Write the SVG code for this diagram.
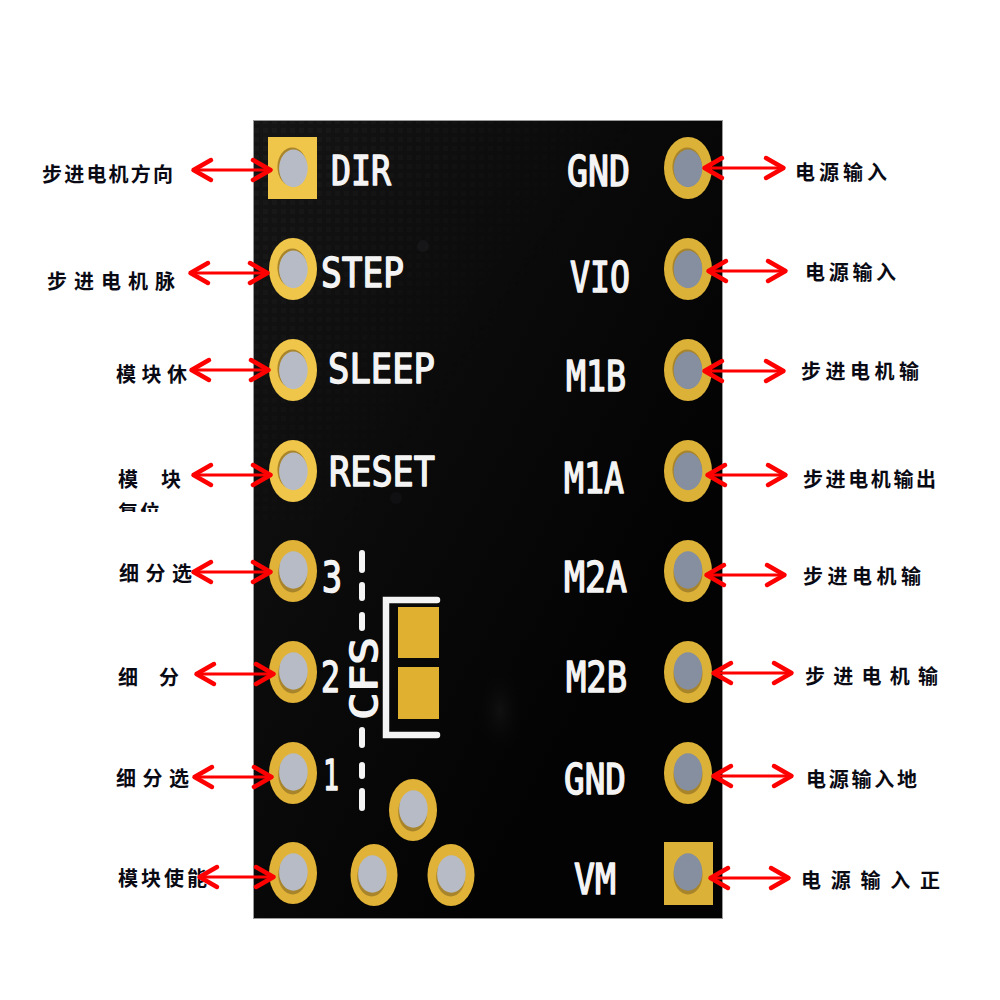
<svg xmlns="http://www.w3.org/2000/svg" width="1000" height="1000" viewBox="0 0 1000 1000">
<style>
.silk{font-family:"DejaVu Sans Mono","Liberation Mono",monospace;font-weight:normal;fill:#f4f4f4;stroke:#f4f4f4;stroke-width:1.5;stroke-linejoin:round}
.lab{font-family:"Noto Sans CJK SC",sans-serif;font-weight:bold;font-size:20px;fill:#0a0a14}
.arrow{fill:none;stroke:#ff0000;stroke-width:3.2;marker-start:url(#head);marker-end:url(#head)}
.dash{fill:none;stroke:#f4f4f4;stroke-width:6;stroke-linecap:round}
.glA{fill:#f0c64a}.glB{fill:#e0b238}.glC{fill:#dcb138}
.hlA{fill:#b7bbc5}.hlC{fill:#858fa0}
.sd{fill:#a8842a}
</style>
<defs>
<marker id="head" markerUnits="userSpaceOnUse" viewBox="-24 -15 27 30" refX="0" refY="0" markerWidth="27" markerHeight="30" orient="auto-start-reverse">
<path d="M-19,-10 L-1.5,0 L-19,10" fill="none" stroke="#ff0000" stroke-width="4.5" stroke-linejoin="round" stroke-linecap="round"/>
</marker>
<linearGradient id="pcb" x1="0" y1="0" x2="0.75" y2="0.7">
<stop offset="0" stop-color="#151515"/><stop offset="0.55" stop-color="#0a0a0a"/><stop offset="1" stop-color="#030303"/>
</linearGradient>
<pattern id="grid" width="9" height="9" patternUnits="userSpaceOnUse">
<rect width="9" height="9" fill="none"/><rect x="2" y="2" width="5" height="5" fill="#222" opacity="0.45"/>
</pattern>
<linearGradient id="fade" x1="0" y1="0" x2="1" y2="0.6">
<stop offset="0" stop-color="#fff"/><stop offset="0.6" stop-color="#000"/>
</linearGradient>
<mask id="gridMask"><rect x="254" y="121" width="468" height="400" fill="url(#fade)"/></mask>
<clipPath id="cut"><rect x="100" y="495" width="80" height="17"/></clipPath>
<radialGradient id="glow"><stop offset="0" stop-color="#1c1c1c"/><stop offset="1" stop-color="#030303" stop-opacity="0"/></radialGradient>
<g id="holeTopA"><ellipse cx="-0.8" cy="-1.2" rx="14.8" ry="19.2" class="sd"/><ellipse cx="0.4" cy="0.4" rx="14.3" ry="18.8" class="hlA"/></g>
<g id="holeLowA"><ellipse cx="-0.3" cy="2" rx="14.5" ry="19.5" class="sd"/><ellipse cx="0.4" cy="-1" rx="14.3" ry="18.8" class="hlA"/></g>
<g id="holeTopC"><ellipse cx="-0.8" cy="-1.2" rx="14.8" ry="19.2" class="sd"/><ellipse cx="0" cy="0.4" rx="14.3" ry="18.8" class="hlC"/></g>
<g id="holeLowC"><ellipse cx="0" cy="2" rx="14.5" ry="19.5" class="sd"/><ellipse cx="0" cy="-1" rx="14.3" ry="18.8" class="hlC"/></g>
</defs>
<rect width="1000" height="1000" fill="#fff"/>
<g id="board">
<rect x="253" y="120" width="470" height="799" fill="#9a9a9a"/>
<rect x="254" y="121" width="468" height="797" fill="url(#pcb)"/>
<rect x="254" y="121" width="468" height="400" fill="url(#grid)" mask="url(#gridMask)"/>
<ellipse cx="500" cy="710" rx="26" ry="48" fill="url(#glow)" opacity="0.5"/>
<circle cx="423" cy="246" r="6" fill="#1d1d22" opacity="0.5"/>
<circle cx="396" cy="498" r="6" fill="#15151a" opacity="0.5"/>
</g>
<g id="silkscreen-cfs">
<path class="dash" d="M362,553V570M362,585V598M362,615V628M362,730V745M362,765V776M362,791V808"/>
<text class="silk" transform="translate(377,720) rotate(-90)" font-size="38" textLength="83" lengthAdjust="spacingAndGlyphs">CFS</text>
<path d="M437,600H386V735H437" fill="none" stroke="#f4f4f4" stroke-width="6.5" stroke-linecap="round"/>
<rect x="398" y="607" width="41" height="51" fill="#e0b030"/>
<rect x="398" y="667" width="41" height="52" fill="#e0b030"/>
</g>

<g id="pin-dir"><rect x="268" y="137" width="49" height="62" class="glA"/><use href="#holeTopA" x="293" y="168"/>
<text class="silk" x="331" y="185" font-size="41" textLength="60" lengthAdjust="spacingAndGlyphs">DIR</text>
<text class="lab" x="42" y="182" style="letter-spacing:2.2px">步进电机方向</text></g>
<g id="pin-step"><ellipse cx="293" cy="269" rx="24" ry="31" class="glA"/><use href="#holeTopA" x="293" y="269"/>
<text class="silk" x="321" y="287" font-size="41" textLength="83" lengthAdjust="spacingAndGlyphs">STEP</text>
<text class="lab" x="47" y="289" style="letter-spacing:7px">步进电机脉</text></g>
<g id="pin-sleep"><ellipse cx="293" cy="370" rx="24" ry="31" class="glA"/><use href="#holeTopA" x="293" y="370"/>
<text class="silk" x="328" y="383" font-size="41" textLength="107" lengthAdjust="spacingAndGlyphs">SLEEP</text>
<text class="lab" x="116" y="382" style="letter-spacing:5.5px">模块休</text></g>
<g id="pin-reset"><ellipse cx="293" cy="471" rx="24" ry="31" class="glA"/><use href="#holeTopA" x="293" y="471"/>
<text class="silk" x="329" y="486" font-size="41" textLength="106" lengthAdjust="spacingAndGlyphs">RESET</text>
<text class="lab" x="118" y="487" style="letter-spacing:23px">模块</text>
<g clip-path="url(#cut)"><text class="lab" x="118" y="520" style="letter-spacing:2px">复位</text></g></g>
<g id="pin-3"><ellipse cx="293" cy="571" rx="24" ry="31" class="glB"/><use href="#holeLowA" x="293" y="571"/>
<text class="silk" x="322" y="592" font-size="42" textLength="20" lengthAdjust="spacingAndGlyphs">3</text>
<text class="lab" x="119" y="581" style="letter-spacing:6.5px">细分选</text></g>
<g id="pin-2"><ellipse cx="293" cy="672" rx="24" ry="31" class="glB"/><use href="#holeLowA" x="293" y="672"/>
<text class="silk" x="321" y="692" font-size="42" textLength="19" lengthAdjust="spacingAndGlyphs">2</text>
<text class="lab" x="118" y="685" style="letter-spacing:21px">细分</text></g>
<g id="pin-1"><ellipse cx="293" cy="773" rx="24" ry="31" class="glB"/><use href="#holeLowA" x="293" y="773"/>
<text class="silk" x="323" y="790" font-size="42" textLength="16" lengthAdjust="spacingAndGlyphs">1</text>
<text class="lab" x="116" y="786" style="letter-spacing:6.5px">细分选</text></g>
<g id="pin-en"><ellipse cx="293" cy="873" rx="24" ry="31" class="glB"/><use href="#holeLowA" x="293" y="873"/>
<text class="lab" x="118" y="886" style="letter-spacing:3px">模块使能</text></g>
<g id="pad-a"><ellipse cx="413" cy="810" rx="24" ry="31" class="glB"/><use href="#holeLowA" x="413" y="810"/></g>
<g id="pad-b"><ellipse cx="374" cy="875" rx="23.5" ry="31" class="glB"/><use href="#holeLowA" x="372" y="875"/></g>
<g id="pad-c"><ellipse cx="451" cy="875" rx="23.5" ry="31" class="glB"/><use href="#holeLowA" x="451" y="875"/></g>

<g id="pin-gnd1"><ellipse cx="688" cy="168" rx="24" ry="31" class="glC"/><use href="#holeTopC" x="688" y="168"/>
<text class="silk" x="567" y="186" font-size="42" textLength="63" lengthAdjust="spacingAndGlyphs">GND</text>
<text class="lab" x="795" y="180" style="letter-spacing:4px">电源输入</text></g>
<g id="pin-vio"><ellipse cx="688" cy="269" rx="24" ry="31" class="glC"/><use href="#holeTopC" x="688" y="269"/>
<text class="silk" x="570" y="292" font-size="42" textLength="60" lengthAdjust="spacingAndGlyphs">VIO</text>
<text class="lab" x="805" y="280" style="letter-spacing:3.7px">电源输入</text></g>
<g id="pin-m1b"><ellipse cx="688" cy="370" rx="24" ry="31" class="glC"/><use href="#holeTopC" x="688" y="370"/>
<text class="silk" x="566" y="391" font-size="42" textLength="60" lengthAdjust="spacingAndGlyphs">M1B</text>
<text class="lab" x="801" y="379" style="letter-spacing:4.5px">步进电机输</text></g>
<g id="pin-m1a"><ellipse cx="688" cy="471" rx="24" ry="31" class="glC"/><use href="#holeTopC" x="688" y="471"/>
<text class="silk" x="564" y="493" font-size="42" textLength="60" lengthAdjust="spacingAndGlyphs">M1A</text>
<text class="lab" x="803" y="487" style="letter-spacing:2.6px">步进电机输出</text></g>
<g id="pin-m2a"><ellipse cx="688" cy="571" rx="24" ry="31" class="glC"/><use href="#holeLowC" x="688" y="571"/>
<text class="silk" x="564" y="592" font-size="42" textLength="63" lengthAdjust="spacingAndGlyphs">M2A</text>
<text class="lab" x="803" y="584" style="letter-spacing:4.5px">步进电机输</text></g>
<g id="pin-m2b"><ellipse cx="688" cy="672" rx="24" ry="31" class="glC"/><use href="#holeLowC" x="688" y="672"/>
<text class="silk" x="566" y="692" font-size="42" textLength="61" lengthAdjust="spacingAndGlyphs">M2B</text>
<text class="lab" x="805" y="684" style="letter-spacing:8.25px">步进电机输</text></g>
<g id="pin-gnd2"><ellipse cx="688" cy="773" rx="24" ry="31" class="glC"/><use href="#holeLowC" x="688" y="773"/>
<text class="silk" x="564" y="794" font-size="42" textLength="62" lengthAdjust="spacingAndGlyphs">GND</text>
<text class="lab" x="806" y="787" style="letter-spacing:2.75px">电源输入地</text></g>
<g id="pin-vm"><rect x="664" y="842" width="49" height="63" class="glC"/><use href="#holeLowC" x="688" y="873"/>
<text class="silk" x="574" y="894" font-size="42" textLength="42" lengthAdjust="spacingAndGlyphs">VM</text>
<text class="lab" x="801" y="888" style="letter-spacing:9.75px">电源输入正</text></g>

<g id="connectors">
<path class="arrow" d="M192,170H272"/>
<path class="arrow" d="M189,273H269"/>
<path class="arrow" d="M190,370H270"/>
<path class="arrow" d="M192,475H272"/>
<path class="arrow" d="M192,572H272"/>
<path class="arrow" d="M195,674H275"/>
<path class="arrow" d="M193,777H273"/>
<path class="arrow" d="M198,877H275"/>
<path class="arrow" d="M703,168H785"/>
<path class="arrow" d="M707,271H787"/>
<path class="arrow" d="M703,371H785"/>
<path class="arrow" d="M706,475H787"/>
<path class="arrow" d="M705,575H786"/>
<path class="arrow" d="M712,673H793"/>
<path class="arrow" d="M712,776H793"/>
<path class="arrow" d="M709,878H790"/>
</g>
</svg>
